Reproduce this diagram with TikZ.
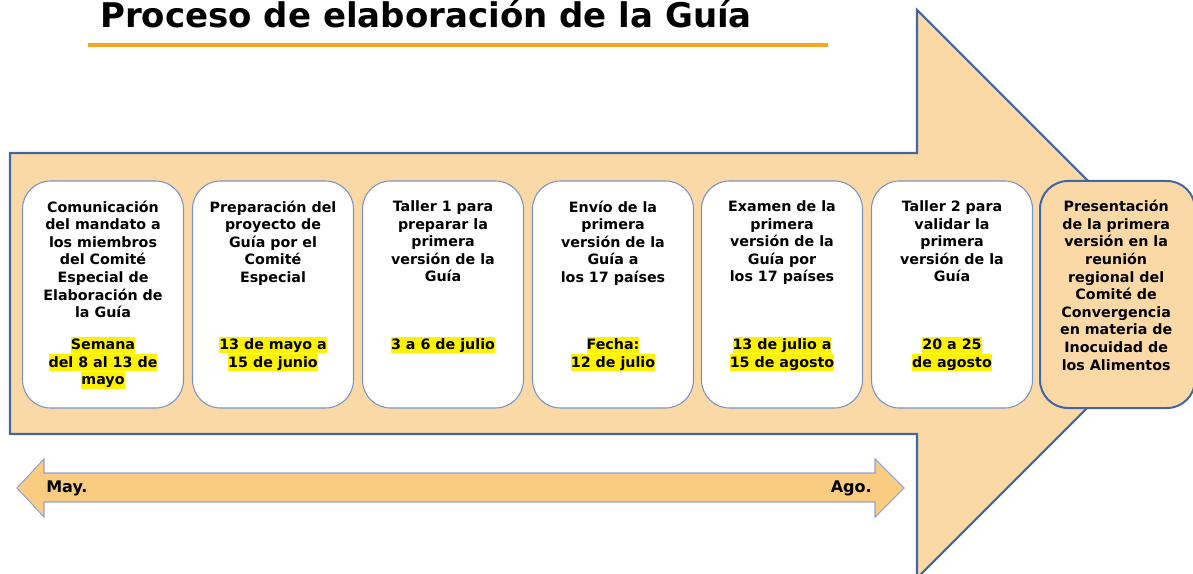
\documentclass[tikz,border=0pt]{standalone}
\usepackage{fontspec}
\setmainfont{DejaVu Sans}
\usetikzlibrary{positioning}

\definecolor{arrowfill}{RGB}{250,217,166}
\definecolor{arrowline}{RGB}{68,102,160}
\definecolor{boxline}{RGB}{120,148,196}
\definecolor{bandfill}{RGB}{249,204,130}
\definecolor{bandline}{RGB}{140,165,210}
\definecolor{rulecol}{RGB}{245,165,35}

\setlength{\fboxsep}{0pt}
\newcommand{\hlite}[1]{\colorbox{yellow}{\rule[-3pt]{0pt}{12.5pt}#1}}

\begin{document}
\begin{tikzpicture}[x=0.75pt,y=-0.75pt,
	stepbox/.style={draw=boxline,line width=0.8pt,fill=white,rounded corners=21pt,
		minimum width=120.75pt,minimum height=170.25pt,inner sep=0pt},
	lastbox/.style={stepbox,draw=arrowline,line width=1.5pt,fill=arrowfill,minimum width=116.25pt},
	txt/.style={align=center,inner sep=0pt,font=\fontsize{10.7}{13.2}\selectfont\bfseries}]
			\clip (0,0) rectangle (1193,574);
		
			% title
			\node[anchor=base west,inner sep=0pt,font=\fontsize{25.5}{30}\selectfont\bfseries] (title) at (100,28) {Proceso de elaboración de la Guía};
			\draw[rulecol,line width=3pt] (88,45)--(828,45);
			
			% big arrow
			\draw[arrowline,line width=1.6pt,fill=arrowfill,line join=miter]
				(10,153)--(917,153)--(917,10)--(1201,294)--(917,578)--(917,434)--(10,434)--cycle;
			
			% steps
			\node[stepbox] (b1) at (103,294.5) {};
			\node[stepbox] (b2) at (273,294.5) {};
			\node[stepbox] (b3) at (443,294.5) {};
			\node[stepbox] (b4) at (613,294.5) {};
			\node[stepbox] (b5) at (782,294.5) {};
			\node[stepbox] (b6) at (952,294.5) {};
			\node[lastbox] (b7) at (1117.5,294.5) {};
			
			\node[txt,below=15pt of b1.north] (t1) {Comunicación\\del mandato a\\los miembros\\del Comité\\Especial de\\Elaboración de\\la Guía};
			\node[txt,below=15pt of b2.north] (t2) {Preparación del\\proyecto de\\Guía por el\\Comité\\Especial};
			\node[txt,below=15pt of b3.north] (t3) {Taller 1 para\\preparar la\\primera\\versión de la\\Guía};
			\node[txt,below=15pt of b4.north] (t4) {Envío de la\\primera\\versión de la\\Guía a\\los 17 países};
			\node[txt,below=15pt of b5.north] (t5) {Examen de la\\primera\\versión de la\\Guía por\\los 17 países};
			\node[txt,below=15pt of b6.north] (t6) {Taller 2 para\\validar la\\primera\\versión de la\\Guía};
			\node[txt,below=15pt of b7.north,xshift=-1pt] (t7) {Presentación\\de la primera\\versión en la\\reunión\\regional del\\Comité de\\Convergencia\\en materia de\\Inocuidad de\\los Alimentos};
			
			\node[txt,below=117pt of b1.north] (d1) {\hlite{Semana}\\\hlite{del 8 al 13 de}\\\hlite{mayo}};
			\node[txt,below=117pt of b2.north] (d2) {\hlite{13 de mayo a}\\\hlite{15 de junio}};
			\node[txt,below=117pt of b3.north] (d3) {\hlite{3 a 6 de julio}};
			\node[txt,below=117pt of b4.north] (d4) {\hlite{Fecha:}\\\hlite{12 de julio}};
			\node[txt,below=117pt of b5.north] (d5) {\hlite{13 de julio a}\\\hlite{15 de agosto}};
			\node[txt,below=117pt of b6.north] (d6) {\hlite{20 a 25}\\\hlite{de agosto}};
			
			% time band
			\draw[bandline,line width=0.8pt,fill=bandfill]
				(17,488)--(44,459)--(44,473)--(875,473)--(875,459)--(904,488)--(875,517)--(875,502)--(44,502)--(44,517)--cycle;
			\node[anchor=west,inner sep=0pt,font=\fontsize{12}{14}\selectfont\bfseries] (may) at (46,488) {May.};
			\node[anchor=east,inner sep=0pt,font=\fontsize{12}{14}\selectfont\bfseries] (ago) at (872,488) {Ago.};
		\end{tikzpicture}
\end{document}
